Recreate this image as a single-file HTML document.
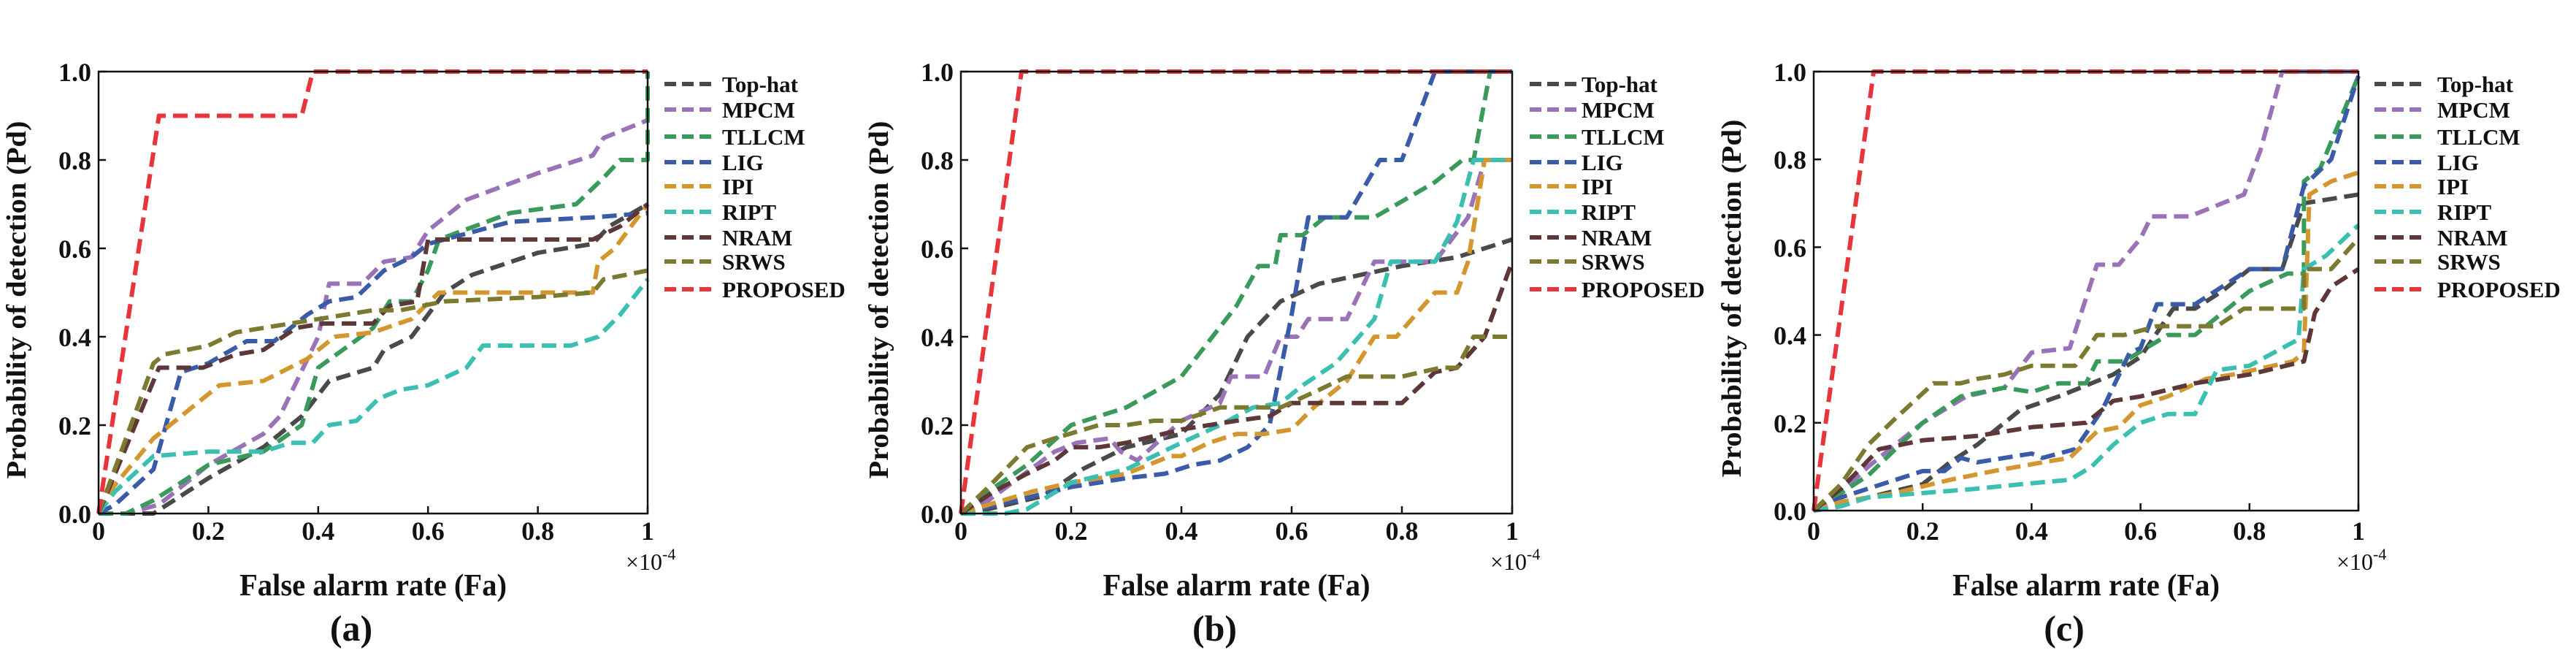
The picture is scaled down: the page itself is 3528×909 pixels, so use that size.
<!DOCTYPE html>
<html><head><meta charset="utf-8"><style>
html,body{margin:0;padding:0;background:#fff;}
svg{display:block;font-family:"Liberation Serif",serif;font-weight:bold;}
</style></head><body>
<svg id="fig" width="3528" height="909" viewBox="0 0 3528 909" xmlns="http://www.w3.org/2000/svg"></svg>
<script>
const methods = ["Top-hat","MPCM","TLLCM","LIG","IPI","RIPT","NRAM","SRWS","PROPOSED"];
const colors = ["#4a4a4a","#9a72b8","#3a9a5b","#3a5ca8","#d4962e","#3bbfb0","#5e3838","#7c7a30","#e8353b"];
const xTicks = [0,0.2,0.4,0.6,0.8,1];
const xTickLabels = ["0","0.2","0.4","0.6","0.8","1"];
const yTicks = [0,0.2,0.4,0.6,0.8,1];
const yTickLabels = ["0.0","0.2","0.4","0.6","0.8","1.0"];
const panelLabels = ["(a)","(b)","(c)"];

// panel (a)
const aTophat=[[0,0],[0.1,0],[0.2,0.08],[0.3,0.15],[0.37,0.22],[0.42,0.3],[0.5,0.33],[0.52,0.37],[0.57,0.4],[0.63,0.5],[0.68,0.54],[0.8,0.59],[0.9,0.61],[0.93,0.65],[1,0.7]];
const aMPCM=[[0,0],[0.05,0],[0.11,0.02],[0.2,0.11],[0.3,0.18],[0.33,0.22],[0.4,0.4],[0.42,0.52],[0.48,0.52],[0.52,0.57],[0.57,0.58],[0.6,0.64],[0.67,0.71],[0.8,0.77],[0.9,0.81],[0.92,0.85],[1,0.89]];
const aTLLCM=[[0,0],[0.05,0],[0.1,0.03],[0.2,0.11],[0.3,0.14],[0.37,0.2],[0.4,0.33],[0.5,0.42],[0.53,0.48],[0.57,0.48],[0.6,0.55],[0.62,0.62],[0.75,0.68],[0.87,0.7],[0.92,0.76],[0.95,0.8],[1,0.8],[1,1]];
const aLIG=[[0,0],[0.03,0.02],[0.1,0.1],[0.15,0.32],[0.2,0.34],[0.27,0.39],[0.32,0.39],[0.38,0.45],[0.42,0.48],[0.47,0.49],[0.52,0.55],[0.57,0.58],[0.6,0.61],[0.75,0.66],[0.9,0.67],[1,0.68]];
const aIPI=[[0,0],[0.02,0.05],[0.1,0.17],[0.15,0.22],[0.22,0.29],[0.3,0.3],[0.38,0.35],[0.43,0.4],[0.5,0.41],[0.57,0.44],[0.62,0.5],[0.9,0.5],[0.91,0.57],[0.94,0.6],[1,0.7]];
const aRIPT=[[0,0],[0.03,0.05],[0.1,0.13],[0.2,0.14],[0.3,0.14],[0.35,0.16],[0.39,0.16],[0.42,0.2],[0.47,0.21],[0.51,0.26],[0.55,0.28],[0.6,0.29],[0.67,0.33],[0.7,0.38],[0.86,0.38],[0.91,0.4],[0.95,0.45],[1,0.53]];
const aNRAM=[[0,0],[0.1,0.3],[0.11,0.33],[0.19,0.33],[0.25,0.36],[0.3,0.37],[0.36,0.42],[0.41,0.43],[0.5,0.43],[0.53,0.47],[0.58,0.48],[0.6,0.62],[0.9,0.62],[0.95,0.65],[1,0.7]];
const aSRWS=[[0,0],[0.1,0.34],[0.12,0.36],[0.2,0.38],[0.25,0.41],[0.3,0.42],[0.4,0.44],[0.5,0.46],[0.55,0.46],[0.63,0.48],[0.8,0.49],[0.9,0.5],[0.92,0.53],[1,0.55]];
const aProposed=[[0,0],[0.11,0.9],[0.37,0.9],[0.39,1],[1,1]];

// panel (b)
const bTophat=[[0,0],[0.05,0.01],[0.15,0.04],[0.22,0.1],[0.3,0.15],[0.4,0.18],[0.47,0.27],[0.52,0.4],[0.58,0.48],[0.65,0.52],[0.8,0.56],[0.9,0.58],[1,0.62]];
const bMPCM=[[0,0],[0.05,0.03],[0.17,0.14],[0.21,0.16],[0.27,0.17],[0.29,0.14],[0.32,0.12],[0.4,0.21],[0.47,0.25],[0.49,0.31],[0.55,0.31],[0.58,0.4],[0.61,0.4],[0.63,0.44],[0.7,0.44],[0.75,0.57],[0.86,0.57],[0.92,0.67],[0.95,0.8],[1,0.8]];
const bTLLCM=[[0,0],[0.05,0.05],[0.12,0.11],[0.2,0.2],[0.3,0.24],[0.4,0.31],[0.5,0.47],[0.54,0.56],[0.57,0.56],[0.58,0.63],[0.62,0.63],[0.66,0.67],[0.75,0.67],[0.86,0.75],[0.91,0.8],[0.93,0.8],[0.96,1],[1,1]];
const bLIG=[[0,0],[0.1,0.03],[0.2,0.06],[0.3,0.08],[0.37,0.09],[0.42,0.11],[0.47,0.12],[0.52,0.15],[0.56,0.2],[0.6,0.45],[0.63,0.67],[0.7,0.67],[0.76,0.8],[0.8,0.8],[0.86,1],[1,1]];
const bIPI=[[0,0],[0.05,0.02],[0.13,0.05],[0.2,0.07],[0.3,0.09],[0.38,0.13],[0.4,0.13],[0.45,0.16],[0.5,0.18],[0.55,0.18],[0.6,0.19],[0.64,0.24],[0.7,0.3],[0.75,0.4],[0.79,0.4],[0.86,0.5],[0.9,0.5],[0.92,0.57],[0.95,0.8],[1,0.8]];
const bRIPT=[[0,0],[0.08,0],[0.12,0.01],[0.2,0.07],[0.3,0.1],[0.4,0.16],[0.47,0.2],[0.53,0.24],[0.58,0.25],[0.62,0.29],[0.68,0.34],[0.75,0.44],[0.78,0.57],[0.86,0.57],[0.9,0.66],[0.93,0.8],[1,0.8]];
const bNRAM=[[0,0],[0.06,0.05],[0.12,0.09],[0.17,0.12],[0.2,0.15],[0.25,0.15],[0.3,0.16],[0.4,0.19],[0.45,0.2],[0.5,0.21],[0.56,0.22],[0.6,0.25],[0.8,0.25],[0.86,0.32],[0.9,0.33],[0.95,0.4],[1,0.57]];
const bSRWS=[[0,0],[0.05,0.06],[0.12,0.15],[0.17,0.17],[0.25,0.2],[0.3,0.2],[0.35,0.21],[0.4,0.21],[0.47,0.24],[0.58,0.24],[0.65,0.28],[0.7,0.31],[0.8,0.31],[0.87,0.33],[0.9,0.33],[0.93,0.4],[1,0.4]];
const bProposed=[[0,0],[0.11,1],[1,1]];

// panel (c)
const cTophat=[[0,0],[0.05,0.01],[0.1,0.03],[0.2,0.06],[0.25,0.11],[0.3,0.15],[0.38,0.23],[0.45,0.26],[0.55,0.31],[0.6,0.35],[0.66,0.46],[0.7,0.46],[0.75,0.5],[0.8,0.55],[0.86,0.55],[0.9,0.7],[1,0.72]];
const cMPCM=[[0,0],[0.05,0.04],[0.1,0.1],[0.2,0.2],[0.28,0.26],[0.35,0.28],[0.4,0.36],[0.47,0.37],[0.52,0.56],[0.56,0.56],[0.6,0.62],[0.62,0.67],[0.69,0.67],[0.79,0.72],[0.82,0.82],[0.86,1],[1,1]];
const cTLLCM=[[0,0],[0.05,0.04],[0.1,0.08],[0.2,0.2],[0.27,0.26],[0.35,0.28],[0.4,0.27],[0.45,0.29],[0.5,0.29],[0.52,0.34],[0.57,0.34],[0.65,0.4],[0.7,0.4],[0.8,0.5],[0.87,0.54],[0.9,0.54],[0.9,0.75],[0.93,0.78],[1,0.99]];
const cLIG=[[0,0],[0.05,0.03],[0.15,0.07],[0.2,0.09],[0.24,0.09],[0.27,0.12],[0.3,0.11],[0.4,0.13],[0.42,0.12],[0.48,0.14],[0.53,0.23],[0.58,0.36],[0.6,0.37],[0.63,0.47],[0.7,0.47],[0.8,0.55],[0.86,0.55],[0.9,0.74],[0.95,0.8],[1,0.99]];
const cIPI=[[0,0],[0.05,0.02],[0.15,0.04],[0.25,0.07],[0.33,0.09],[0.42,0.11],[0.47,0.12],[0.52,0.18],[0.56,0.19],[0.6,0.24],[0.65,0.26],[0.72,0.3],[0.77,0.31],[0.88,0.34],[0.9,0.36],[0.91,0.72],[0.95,0.75],[1,0.77]];
const cRIPT=[[0,0],[0.05,0.01],[0.1,0.03],[0.2,0.04],[0.3,0.05],[0.38,0.06],[0.47,0.07],[0.51,0.1],[0.55,0.15],[0.6,0.2],[0.65,0.22],[0.7,0.22],[0.74,0.32],[0.8,0.33],[0.89,0.39],[0.9,0.55],[0.94,0.58],[1,0.65]];
const cNRAM=[[0,0],[0.05,0.05],[0.12,0.14],[0.2,0.16],[0.3,0.17],[0.4,0.19],[0.5,0.2],[0.55,0.25],[0.6,0.26],[0.7,0.29],[0.8,0.31],[0.9,0.34],[0.92,0.45],[0.95,0.51],[1,0.55]];
const cSRWS=[[0,0],[0.05,0.06],[0.1,0.15],[0.15,0.21],[0.22,0.29],[0.27,0.29],[0.3,0.3],[0.35,0.31],[0.4,0.33],[0.48,0.33],[0.52,0.4],[0.57,0.4],[0.63,0.42],[0.74,0.42],[0.79,0.46],[0.9,0.46],[0.9,0.55],[0.95,0.55],[1,0.62]];
const cProposed=[[0,0],[0.11,1],[1,1]];

const panelSeries = [
  [aTophat,aMPCM,aTLLCM,aLIG,aIPI,aRIPT,aNRAM,aSRWS,aProposed],
  [bTophat,bMPCM,bTLLCM,bLIG,bIPI,bRIPT,bNRAM,bSRWS,bProposed],
  [cTophat,cMPCM,cTLLCM,cLIG,cIPI,cRIPT,cNRAM,cSRWS,cProposed]
];

const layout = [
  {l:135,r:887,t:98,b:703,legX:910,legT:989},
  {l:1316,r:2071,t:98,b:703,legX:2095,legT:2166},
  {l:2484,r:3230,t:98,b:699,legX:3252,legT:3338}
];
const legY = [115,150,187,222,255,290,325,358,396];

const NS="http://www.w3.org/2000/svg";
const svg=document.getElementById('fig');
function mk(tag,attrs,parent){const e=document.createElementNS(NS,tag);for(const k in attrs)e.setAttribute(k,attrs[k]);(parent||svg).appendChild(e);return e;}

layout.forEach((L,pi)=>{
  const g=mk('g',{});
  
  
  const xs=v=>L.l+v*(L.r-L.l);
  const ys=v=>L.b-v*(L.b-L.t);
  // series
  const sg=mk('g',{},g);
  
  
  panelSeries[pi].forEach((pts,si)=>{
    const d=pts.map((p,i)=>(i?'L':'M')+xs(p[0]).toFixed(1)+' '+ys(p[1]).toFixed(1)).join(' ');
    const path=mk('path',{d:d,fill:'none',stroke:colors[si],'stroke-width':6,'stroke-dasharray':'20 10','stroke-linejoin':'round'},sg);
    
    
  });
  // frame
  const fr=mk('rect',{x:L.l,y:L.t,width:L.r-L.l,height:L.b-L.t,fill:'none',stroke:'#111','stroke-width':2.5},g);
  
  
  // x ticks
  xTicks.forEach((v,i)=>{
    mk('line',{x1:xs(v),x2:xs(v),y1:L.b,y2:L.b-10,stroke:'#111','stroke-width':2.5},g);
    const t=mk('text',{x:xs(v),y:739,'text-anchor':'middle','font-size':36,fill:'#111'},g);
    t.textContent=xTickLabels[i];
    
    
  });
  yTicks.forEach((v,i)=>{
    mk('line',{x1:L.l,x2:L.l+10,y1:ys(v),y2:ys(v),stroke:'#111','stroke-width':2.5},g);
    const t=mk('text',{x:L.l-10,y:ys(v)+13,'text-anchor':'end','font-size':36,fill:'#111'},g);
    t.textContent=yTickLabels[i];
    
    
  });
  // exponent
  const ex=mk('text',{x:L.r-30,y:780,'font-size':32,fill:'#111','font-weight':'normal'},g);
  ex.textContent='×10';
  
  
  const ts=mk('tspan',{dy:-14,'font-size':22},ex);ts.textContent='-4';
  // axis titles
  const cx=(L.l+L.r)/2;
  const xt=mk('text',{x:cx,y:815,'text-anchor':'middle','font-size':42,fill:'#111',textLength:366,lengthAdjust:'spacingAndGlyphs'},g);
  xt.textContent='False alarm rate (Fa)';
  
  
  const yc=(L.t+L.b)/2+10;
  const yt=mk('text',{x:0,y:0,'text-anchor':'middle','font-size':38,fill:'#111',textLength:490,lengthAdjust:'spacingAndGlyphs',transform:`translate(${L.l-100},${yc}) rotate(-90)`},g);
  yt.textContent='Probability of detection (Pd)';
  
  
  const pl=mk('text',{x:cx-30,y:877,'text-anchor':'middle','font-size':50,fill:'#111'},g);
  pl.textContent=panelLabels[pi];
  
  
  // legend
  const lg=mk('g',{},g);
  
  
  methods.forEach((m,si)=>{
    const y=legY[si];
    const ln=mk('line',{x1:L.legX,x2:L.legX+64,y1:y,y2:y,stroke:colors[si],'stroke-width':6,'stroke-dasharray':'16 8'},lg);
    
    
    const t=mk('text',{x:L.legT,y:y+11,'font-size':31,fill:'#111'},lg);
    t.textContent=m;
    
    
  });
});
</script>
</body></html>
